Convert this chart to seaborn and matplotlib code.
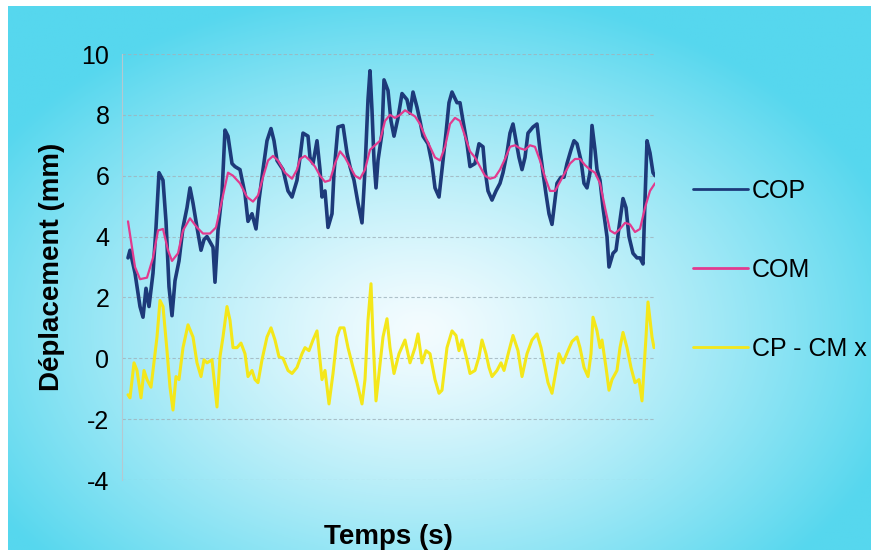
import numpy as np
import pandas as pd
import matplotlib
matplotlib.use("Agg")
import matplotlib.pyplot as plt
import seaborn as sns

# ---------------- data ----------------
cop_t = [0.0, 0.2, 0.7, 1.2, 1.5, 1.8, 2.1, 2.5, 2.8, 3.1, 3.5, 3.8, 4.1, 4.4, 4.7,
         5.1, 5.5, 5.9, 6.2, 6.5, 6.9, 7.3, 7.6, 7.9, 8.5, 8.7, 9.0, 9.4, 9.7, 10.0,
         10.4, 10.7, 11.2, 11.7, 12.0, 12.4, 12.8, 13.1, 13.5, 13.9, 14.3, 14.6, 14.9,
         15.5, 16.0, 16.4, 16.9, 17.2, 17.5, 18.0, 18.2, 18.5, 18.9, 19.2, 19.4, 19.7,
         20.0, 20.4, 20.6, 21.0, 21.5, 21.9, 22.2, 22.6, 23.0, 23.4, 23.7, 24.0, 24.2,
         24.4, 24.6, 24.8, 25.0, 25.4, 25.6, 26.0, 26.3, 26.6, 27.0, 27.4, 27.9, 28.2,
         28.5, 28.9, 29.2, 29.5, 30.0, 30.4, 30.7, 31.1, 31.4, 31.8, 32.1, 32.4, 32.9,
         33.2, 33.5, 33.9, 34.2, 34.7, 35.1, 35.5, 35.7, 36.0, 36.4, 36.8, 37.2, 37.5,
         37.9, 38.2, 38.5, 38.8, 39.1, 39.4, 39.7, 40.0, 40.5, 40.9, 41.2, 41.5, 41.8,
         42.1, 42.4, 42.6, 42.9, 43.3, 43.6, 43.9, 44.3, 44.6, 44.9, 45.3, 45.6, 45.9,
         46.2, 46.4, 46.7, 46.9, 47.2, 47.5, 47.9, 48.1, 48.5, 48.8, 49.1, 49.5, 49.8,
         50.1, 50.5, 50.9, 51.2, 51.5, 51.7, 51.9, 52.2, 52.5, 52.7]
cop_v = [3.3, 3.55, 2.8, 1.7, 1.35, 2.3, 1.7, 2.8, 4.3, 6.1, 5.85, 4.5, 2.35, 1.4, 2.55,
         3.2, 4.3, 4.95, 5.6, 5.1, 4.3, 3.55, 3.9, 4.0, 3.65, 2.5, 4.2, 5.4, 7.5, 7.3,
         6.4, 6.3, 6.2, 5.4, 4.5, 4.75, 4.25, 5.2, 6.2, 7.15, 7.55, 7.15, 6.5,
         6.2, 5.5, 5.3, 5.85, 6.6, 7.4, 7.3, 6.6, 6.4, 7.15, 6.2, 5.3, 5.5,
         4.3, 4.75, 6.1, 7.6, 7.65, 6.75, 6.3, 5.85, 5.1, 4.45, 6.2, 8.5, 9.45,
         8.15, 6.5, 5.6, 6.5, 7.4, 9.15, 8.8, 7.8, 7.3, 7.9, 8.7, 8.5, 8.05,
         8.75, 8.25, 7.8, 7.3, 7.05, 6.4, 5.6, 5.3, 6.2, 7.4, 8.4, 8.75, 8.4,
         8.4, 7.8, 7.05, 6.3, 6.4, 7.05, 6.95, 6.2, 5.5, 5.2, 5.5, 5.75, 6.1,
         6.75, 7.4, 7.7, 7.15, 6.6, 6.2, 6.6, 7.4, 7.6, 7.7, 6.85, 6.1, 5.4,
         4.75, 4.4, 4.95, 5.75, 5.95, 5.95, 6.4, 6.85, 7.15, 7.05, 6.5, 5.75,
         5.6, 6.1, 7.65, 6.85, 6.2, 5.85, 4.95, 4.0, 3.0, 3.45, 3.55, 4.3, 5.25,
         4.95, 4.0, 3.45, 3.3, 3.3, 3.1, 5.2, 7.15, 6.75, 6.1, 6.0]

com_t = [0.0, 0.7, 1.2, 1.9, 2.5, 3.0, 3.5, 4.0, 4.4, 5.0, 5.5, 6.2, 6.9, 7.5, 8.2,
         8.8, 9.4, 10.0, 10.5, 11.2, 11.9, 12.5, 13.0, 13.5, 14.0, 14.5, 15.0, 15.7,
         16.4, 16.9, 17.2, 17.7, 18.2, 18.7, 19.2, 19.7, 20.2, 20.7, 21.2, 21.7, 22.2,
         22.7, 23.2, 23.7, 24.2, 24.7, 25.2, 25.7, 26.2, 26.7, 27.2, 27.7, 28.2, 28.7,
         29.2, 29.7, 30.2, 30.7, 31.2, 31.7, 32.2, 32.7, 33.2, 33.7, 34.2, 34.7, 35.2,
         35.7, 36.2, 36.7, 37.2, 37.7, 38.2, 38.7, 39.2, 39.7, 40.2, 40.7, 41.2, 41.7,
         42.2, 42.7, 43.2, 43.7, 44.2, 44.7, 45.2, 45.7, 46.2, 46.7, 47.2, 47.7, 48.2,
         48.7, 49.2, 49.7, 50.2, 50.7, 51.2, 51.7, 52.2, 52.7]
com_v = [4.5, 3.0, 2.6, 2.65, 3.3, 4.2, 4.25, 3.55, 3.2, 3.45, 4.2, 4.6, 4.3, 4.1, 4.1,
         4.3, 5.2, 6.1, 6.0, 5.75, 5.3, 5.15, 5.35, 5.95, 6.5, 6.65, 6.5, 6.1,
         5.9, 6.2, 6.55, 6.65, 6.5, 6.3, 6.0, 5.8, 5.85, 6.4, 6.8, 6.6, 6.3,
         6.0, 5.9, 6.2, 6.85, 7.0, 7.15, 7.8, 8.0, 7.9, 8.0, 8.15, 8.05, 7.95,
         7.7, 7.3, 6.95, 6.6, 6.5, 6.95, 7.7, 7.9, 7.8, 7.3, 6.8, 6.6, 6.3,
         6.0, 5.9, 5.95, 6.2, 6.55, 6.95, 7.0, 6.9, 6.85, 7.0, 6.95, 6.5, 5.95,
         5.5, 5.5, 5.8, 6.1, 6.4, 6.55, 6.55, 6.35, 6.2, 6.1, 5.75, 4.95, 4.2,
         4.1, 4.25, 4.45, 4.4, 4.15, 4.25, 4.95, 5.5, 5.75]

diff_t = [0.0, 0.2, 0.6, 0.9, 1.3, 1.6, 1.9, 2.3, 2.5, 2.9, 3.2, 3.5, 3.9, 4.2, 4.5,
          4.8, 5.1, 5.5, 6.0, 6.5, 6.9, 7.3, 7.6, 7.9, 8.4, 8.9, 9.2, 9.5, 9.9, 10.2,
          10.5, 10.9, 11.3, 11.7, 12.0, 12.4, 12.7, 13.0, 13.4, 13.9, 14.3, 14.7, 15.1,
          15.5, 16.0, 16.4, 16.9, 17.4, 17.7, 18.1, 18.5, 18.9, 19.1, 19.4, 19.7, 20.1,
          20.5, 20.9, 21.2, 21.6, 22.0, 22.5, 22.9, 23.4, 23.7, 24.0, 24.3, 24.5, 24.8,
          25.1, 25.5, 25.9, 26.2, 26.6, 27.1, 27.7, 28.2, 28.7, 29.0, 29.4, 29.8, 30.2,
          30.7, 31.1, 31.4, 31.9, 32.4, 32.8, 33.1, 33.4, 33.9, 34.2, 34.7, 35.1, 35.4,
          35.8, 36.1, 36.4, 36.9, 37.3, 37.6, 38.1, 38.5, 39.0, 39.4, 39.9, 40.4, 40.9,
          41.3, 41.7, 42.0, 42.4, 42.8, 43.1, 43.5, 44.0, 44.4, 44.9, 45.2, 45.6, 46.0,
          46.3, 46.5, 46.9, 47.2, 47.4, 47.8, 48.1, 48.4, 48.9, 49.2, 49.5, 49.9, 50.3,
          50.7, 51.1, 51.4, 51.8, 52.0, 52.4, 52.6]
diff_v = [-1.2, -1.3, -0.15, -0.4, -1.3, -0.4, -0.7, -0.95, -0.4, 0.7, 1.9, 1.7, 0.25, -0.95, -1.7,
          -0.6, -0.7, 0.35, 1.1, 0.7, -0.15, -0.6, -0.05, -0.15, -0.05, -1.6, 0.05, 0.7, 1.7, 1.25,
          0.35, 0.35, 0.5, 0.15, -0.6, -0.4, -0.7, -0.8, -0.05, 0.7, 1.0, 0.6, 0.05,
          0.0, -0.4, -0.5, -0.3, 0.15, 0.35, 0.25, 0.6, 0.9, 0.25, -0.7, -0.4, -1.5,
          -0.5, 0.7, 1.0, 1.0, 0.35, -0.3, -0.8, -1.5, -0.7, 1.25, 2.45, 0.7, -1.4,
          -0.5, 0.7, 1.3, 0.35, -0.5, 0.15, 0.6, -0.15, 0.35, 0.8, -0.15, 0.25, 0.15,
          -0.7, -1.15, -1.05, 0.35, 0.9, 0.75, 0.25, 0.6, -0.05, -0.5, -0.4, 0.05, 0.6,
          0.15, -0.3, -0.6, -0.4, -0.15, -0.4, 0.25, 0.75, 0.25, -0.6, 0.15, 0.6, 0.8,
          0.35, -0.3, -0.8, -1.15, -0.4, 0.15, -0.15, 0.25, 0.55, 0.7, 0.35, -0.3, -0.6,
          0.15, 1.35, 0.9, 0.35, 0.6, -0.3, -1.05, -0.7, -0.4, 0.35, 0.85, 0.35, -0.3,
          -0.8, -0.7, -1.4, 0.7, 1.85, 0.7, 0.35]

series_names = ["COP", "COM", "CP - CM x"]
y_ticks = [-4, -2, 0, 2, 4, 6, 8, 10]
x_label = "Temps (s)"
y_label = "Déplacement (mm)"

# ---------------- figure ----------------
sns.set_style("white")
plt.rcParams["font.family"] = ["Liberation Sans", "DejaVu Sans"]
plt.rcParams["text.color"] = "black"
plt.rcParams["axes.labelcolor"] = "black"

W, H = 879, 556
fig = plt.figure(figsize=(W / 100, H / 100), dpi=100, facecolor="white")

# radial gradient background panel
bg = fig.add_axes([8 / W, 6 / H, (871 - 8) / W, (550 - 6) / H])
gx = np.linspace(8, 871, 400)
gy = np.linspace(6, 550, 260)
GX, GY = np.meshgrid(gx, gy)
r = np.sqrt(((GX - 420) / 500.0) ** 2 + ((GY - 330) / 345.0) ** 2)
r = np.clip(r, 0, 1) ** 1.25
c0 = np.array([244, 252, 255]) / 255.0
c1 = np.array([86, 215, 238]) / 255.0
img = c0[None, None, :] * (1 - r[..., None]) + c1[None, None, :] * r[..., None]
bg.imshow(img, aspect="auto", extent=[0, 1, 0, 1], origin="upper")
bg.set_axis_off()

ax = fig.add_axes([122 / W, (H - 480) / H, (655 - 122) / W, 426 / H])
ax.set_facecolor("none")

df_cop = pd.DataFrame({"t": cop_t, "v": cop_v})
df_com = pd.DataFrame({"t": com_t, "v": com_v})
df_dif = pd.DataFrame({"t": diff_t, "v": diff_v})

sns.lineplot(data=df_dif, x="t", y="v", ax=ax, color="#f4e71a", lw=2.2,
             estimator=None, label=series_names[2], zorder=3)
sns.lineplot(data=df_cop, x="t", y="v", ax=ax, color="#1d3a7a", lw=2.6,
             estimator=None, label=series_names[0], zorder=4)
sns.lineplot(data=df_com, x="t", y="v", ax=ax, color="#e23a8e", lw=1.6,
             estimator=None, label=series_names[1], zorder=5)

ax.set_xlim(-0.6, 52.7)
ax.set_ylim(-4, 10)
ax.set_yticks(y_ticks)
ax.set_yticklabels([str(v) for v in y_ticks], fontsize=18, color="black")
ax.set_xticks([])
ax.tick_params(axis="y", length=0, pad=9, labelcolor="black")
ax.grid(axis="y", color="#9fb3bc", linestyle=(0, (3, 2)), lw=0.8, alpha=0.8)
ax.grid(axis="x", visible=False)
for s in ["top", "right", "bottom"]:
    ax.spines[s].set_visible(False)
ax.spines["left"].set_color("#b5c8d0")
ax.spines["left"].set_linewidth(0.8)

ax.set_xlabel(x_label, fontsize=20, fontweight="bold", labelpad=32, color="black")
ax.set_ylabel(y_label, fontsize=20, fontweight="bold", labelpad=12, color="black")

handles, labels = ax.get_legend_handles_labels()
order = [labels.index(n) for n in series_names]
leg = ax.legend([handles[i] for i in order], [labels[i] for i in order],
                loc="center left", bbox_to_anchor=(693 / W, 1 - 270 / H),
                bbox_transform=fig.transFigure, frameon=False, fontsize=18,
                handlelength=2.2, handletextpad=0.15, labelspacing=2.2,
                borderpad=0, borderaxespad=0, labelcolor="black")
for ln in leg.get_lines():
    ln.set_linewidth(2.0)

fig.savefig("out.png", dpi=100, facecolor="white")
